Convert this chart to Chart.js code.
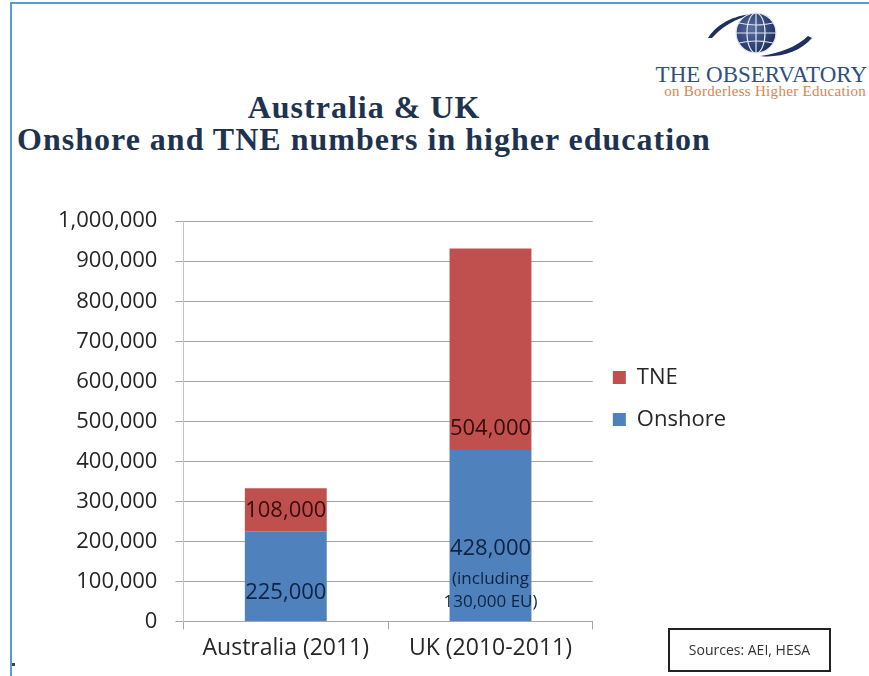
<!DOCTYPE html>
<html>
<head>
<meta charset="utf-8">
<script src="https://cdn.jsdelivr.net/npm/chart.js@4.4.0/dist/chart.umd.min.js"></script>
<style>
  html, body { margin: 0; padding: 0; background: #fff; }
  body { width: 869px; height: 676px; position: relative; overflow: hidden; }
  #frame {
    position: absolute; left: 10px; top: 2px; right: 0; bottom: -4px;
    border-left: 2px solid #5b9bd5; border-top: 2px solid #5b9bd5;
  }
  #title {
    position: absolute; left: 0; top: 91px; width: 728px;
    text-align: center; font: bold 32px/32px "Liberation Serif", serif;
    letter-spacing: 1px; color: #1f3350;
  }
  #logo { position: absolute; left: 700px; top: 8px; }
  #brand {
    position: absolute; right: 2px; top: 63px; white-space: nowrap;
    font: 23px/23px "Liberation Serif", serif; color: #2f4f82;
  }
  #brand-sub {
    position: absolute; right: 3px; top: 84px; white-space: nowrap;
    font: 15px/15px "Liberation Serif", serif; letter-spacing: 0.3px; color: #d8844f;
  }
  #chart { position: absolute; left: 0; top: 190px; }
  #sources {
    position: absolute; left: 668px; top: 628px; width: 163px; height: 44px;
    box-sizing: border-box; border: 2px solid #222;
    font: 14px/40px "Open Sans", sans-serif; color: #333; text-align: center;
  }
  #dot { position: absolute; left: 12px; top: 663px; width: 3px; height: 3px; background: #444; }
</style>
</head>
<body>
<div id="frame"></div>

<svg id="logo" width="120" height="55" viewBox="0 0 120 55">
  <defs>
    <radialGradient id="globeFill" cx="40%" cy="40%" r="65%">
      <stop offset="0" stop-color="#5a6fa3"/>
      <stop offset="1" stop-color="#1c2c5c"/>
    </radialGradient>
  </defs>
  <!-- swoosh around the globe -->
  <path d="M8 30 C 18 14, 38 6, 56 6 C 44 8, 26 14, 12 30 Z" fill="#1f2f5e"/>
  <path d="M112 30 C 100 44, 80 50, 60 48 C 76 46, 96 40, 108 28 Z" fill="#1f2f5e"/>
  <circle cx="56" cy="25" r="20" fill="url(#globeFill)"/>
  <g fill="none" stroke="#dfe6f3" stroke-width="1.2">
    <circle cx="56" cy="25" r="20"/>
    <ellipse cx="56" cy="25" rx="9" ry="20"/>
    <line x1="56" y1="5" x2="56" y2="45"/>
    <line x1="36" y1="25" x2="76" y2="25"/>
    <path d="M39 15 Q56 19 73 15"/>
    <path d="M39 35 Q56 31 73 35"/>
  </g>
</svg>
<div id="brand">THE OBSERVATORY</div>
<div id="brand-sub">on Borderless Higher Education</div>

<div id="title">Australia &amp; UK<br>Onshore and TNE numbers in higher education</div>

<canvas id="chart" width="869" height="486"></canvas>

<div id="sources">Sources: AEI, HESA</div>
<div id="dot"></div>

<script>
// Student numbers by country
const categories = ['Australia (2011)', 'UK (2010-2011)'];
const onshore = [225000, 428000];
const tne = [108000, 504000];
const onshoreNotes = [[], ['(including', '130,000 EU)']];

const yMax = 1000000;
const yStep = 100000;

const numberFmt = v => v.toLocaleString('en-US');

// Writes each segment's value (plus any notes) near the bottom of the segment
const segmentLabels = {
    id: 'segmentLabels',
    afterDatasetsDraw(chart) {
        const ctx = chart.ctx;
        chart.data.datasets.forEach((ds, di) => {
            const meta = chart.getDatasetMeta(di);
            const cfg = ds.segmentLabel;
            meta.data.forEach((bar, i) => {
                const notes = (cfg.notes && cfg.notes[i]) || [];
                let y = bar.base - (notes.length ? cfg.noteLift : cfg.lift);
                ctx.save();
                ctx.textAlign = 'center';
                ctx.textBaseline = 'middle';
                ctx.fillStyle = cfg.color;
                ctx.font = '17px "Open Sans"';
                for (let k = notes.length - 1; k >= 0; k--) {
                    ctx.fillText(notes[k], bar.x, y);
                    y -= 23;
                }
                if (notes.length) y -= 7;
                ctx.font = '22px "Open Sans"';
                ctx.fillText(numberFmt(ds.data[i]), bar.x, y);
                ctx.restore();
            });
        });
    }
};

const ctx = document.getElementById('chart').getContext('2d');

new Chart(ctx, {
    type: 'bar',
    data: {
        labels: categories,
        datasets: [
            {
                label: 'Onshore',
                data: onshore,
                backgroundColor: '#4f81bd',
                segmentLabel: { color: '#0e2344', lift: 28, noteLift: 19, notes: onshoreNotes }
            },
            {
                label: 'TNE',
                data: tne,
                backgroundColor: '#c0504d',
                segmentLabel: { color: '#340c0c', lift: 21 }
            }
        ]
    },
    options: {
        responsive: false,
        animation: false,
        layout: { padding: { top: 16, left: 40, right: 133, bottom: 9 } },
        datasets: {
            bar: { barPercentage: 0.4, categoryPercentage: 1 }
        },
        plugins: {
            tooltip: { enabled: false },
            legend: {
                position: 'right',
                align: 'start',
                reverse: true,
                title: { display: true, text: '', padding: { top: 126, bottom: 0 } },
                labels: {
                    boxWidth: 13,
                    boxHeight: 13,
                    padding: 20,
                    color: '#262626',
                    font: { family: 'Open Sans', size: 22 }
                }
            }
        },
        scales: {
            x: {
                stacked: true,
                grid: { display: true, drawOnChartArea: false, offset: true, tickLength: 8, color: '#a6a6a6' },
                border: { color: '#a6a6a6' },
                ticks: { color: '#262626', padding: 5, font: { family: 'Open Sans', size: 23 } }
            },
            y: {
                stacked: true,
                min: 0,
                max: yMax,
                grid: { color: '#a6a6a6', tickLength: 8 },
                border: { color: '#c4c4c4' },
                ticks: {
                    stepSize: yStep,
                    padding: 18,
                    color: '#262626',
                    font: { family: 'Open Sans', size: 22 },
                    callback: v => numberFmt(v)
                }
            }
        }
    },
    plugins: [segmentLabels]
});
</script>
</body>
</html>
